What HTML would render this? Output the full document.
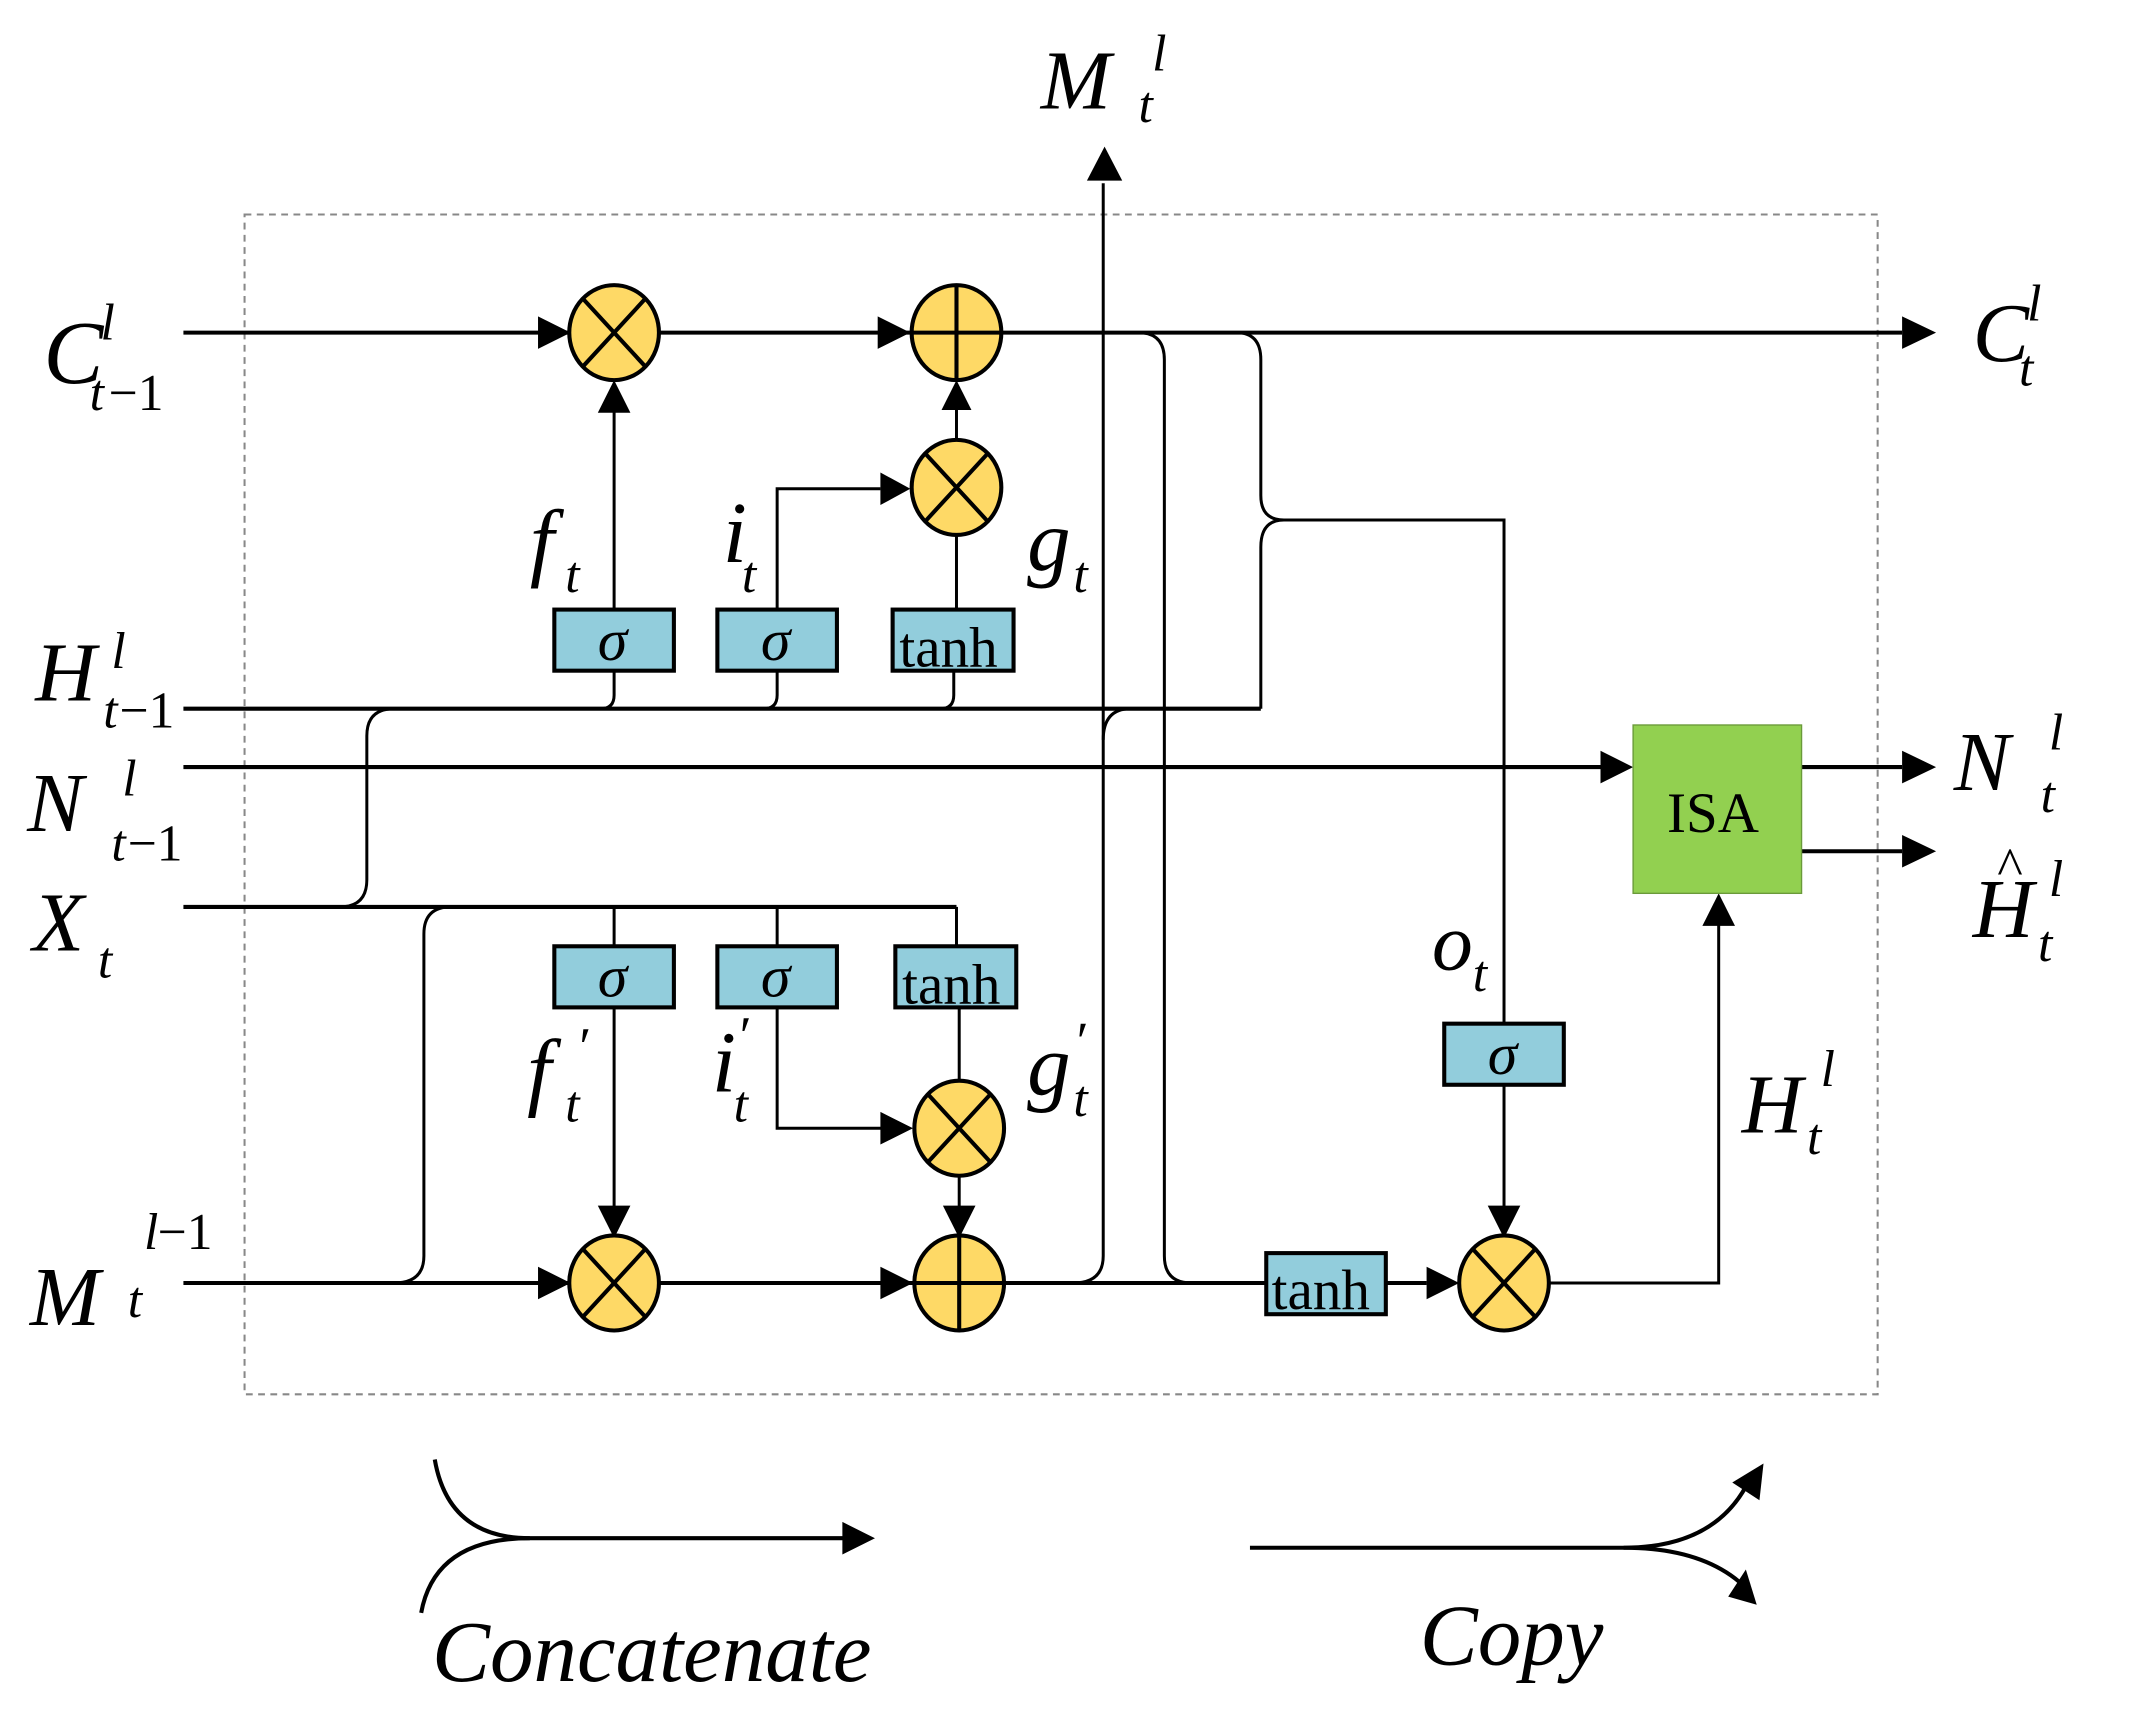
<!DOCTYPE html>
<html><head><meta charset="utf-8"><style>html,body{margin:0;padding:0;background:#fff}svg{display:block}</style></head>
<body>
<svg width="2129" height="1712" viewBox="0 0 1567 1261" preserveAspectRatio="none" xmlns="http://www.w3.org/2000/svg" font-family="Liberation Serif, serif">
<g fill="none" stroke="#000">
<rect x="180" y="158" width="1202" height="869" stroke="#888" stroke-width="1.5" stroke-dasharray="5,4"/>
<g stroke-width="3">
<line x1="135" y1="245" x2="418" y2="245"/>
<path d="M396,233L420,245L396,257z" fill="#000" stroke="none"/>
<line x1="486" y1="245" x2="670" y2="245"/>
<path d="M646,233L670,245L646,257z" fill="#000" stroke="none"/>
<line x1="738" y1="245" x2="1400" y2="245"/>
<path d="M1400,233L1425,245L1400,257z" fill="#000" stroke="none"/>
<line x1="135" y1="522" x2="928" y2="522"/>
<line x1="135" y1="565" x2="1180" y2="565"/>
<path d="M1178,553L1202,565L1178,577z" fill="#000" stroke="none"/>
<line x1="135" y1="668" x2="704" y2="668"/>
<line x1="135" y1="945" x2="418" y2="945"/>
<path d="M396,933L420,945L396,957z" fill="#000" stroke="none"/>
<line x1="486" y1="945" x2="672" y2="945"/>
<path d="M648,933L672,945L648,957z" fill="#000" stroke="none"/>
<line x1="740" y1="945" x2="932" y2="945"/>
<line x1="1020" y1="945" x2="1050" y2="945"/>
<path d="M1050,933L1074,945L1050,957z" fill="#000" stroke="none"/>
<line x1="1326" y1="565" x2="1400" y2="565"/>
<path d="M1400,553L1425,565L1400,577z" fill="#000" stroke="none"/>
<line x1="1326" y1="627" x2="1400" y2="627"/>
<path d="M1400,615L1425,627L1400,639z" fill="#000" stroke="none"/>
</g>
<g stroke-width="2.2">
<line x1="452" y1="449" x2="452" y2="302"/>
<path d="M440,304L452,280L464,304z" fill="#000" stroke="none"/>
<path d="M572,449V360H648"/>
<path d="M648,348L670,360L648,372z" fill="#000" stroke="none"/>
<line x1="704" y1="449" x2="704" y2="392"/>
<line x1="704" y1="326" x2="704" y2="300"/>
<path d="M693,302L704,280L715,302z" fill="#000" stroke="none"/>
<path d="M452,494V512Q452,522 442,522"/>
<path d="M572,494V512Q572,522 562,522"/>
<path d="M702,494V512Q702,522 692,522"/>
<path d="M250,668Q270,668 270,648V542Q270,522 290,522"/>
<path d="M290,945Q312,945 312,925V688Q312,668 332,668"/>
<path d="M452,668V697"/>
<path d="M572,668V697"/>
<path d="M704,668V697"/>
<line x1="452" y1="742" x2="452" y2="890"/>
<path d="M440,888L452,912L464,888z" fill="#000" stroke="none"/>
<path d="M572,742V831H650"/>
<path d="M648,819L672,831L648,843z" fill="#000" stroke="none"/>
<line x1="706" y1="742" x2="706" y2="798"/>
<line x1="706" y1="864" x2="706" y2="890"/>
<path d="M694,888L706,912L718,888z" fill="#000" stroke="none"/>
<path d="M790,945Q812,945 812,925V135"/>
<path d="M800,133L813,108L826,133z" fill="#000" stroke="none"/>
<path d="M812,545Q812,522 832,522"/>
<path d="M838,245Q857,245 857,265V925Q857,945 877,945"/>
<path d="M910,245Q928,245 928,265V365Q928,383 945,383H1107V754"/>
<path d="M928,522V403Q928,383 945,383"/>
<line x1="1107" y1="799" x2="1107" y2="890"/>
<path d="M1095,888L1107,912L1119,888z" fill="#000" stroke="none"/>
<path d="M1141,945H1265V680"/>
<path d="M1253,682L1265,658L1277,682z" fill="#000" stroke="none"/>
</g>
<g fill="#fed966" stroke-width="3">
<ellipse cx="452" cy="245" rx="33" ry="35"/><path d="M429,220L475,270M475,220L429,270"/>
<ellipse cx="704" cy="245" rx="33" ry="35"/><path d="M671,245H737M704,210V280"/>
<ellipse cx="704" cy="359" rx="33" ry="35"/><path d="M681,334L727,384M727,334L681,384"/>
<ellipse cx="452" cy="945" rx="33" ry="35"/><path d="M429,920L475,970M475,920L429,970"/>
<ellipse cx="706" cy="945" rx="33" ry="35"/><path d="M673,945H739M706,910V980"/>
<ellipse cx="706" cy="831" rx="33" ry="35"/><path d="M683,806L729,856M729,806L683,856"/>
<ellipse cx="1107" cy="945" rx="33" ry="35"/><path d="M1084,920L1130,970M1130,920L1084,970"/>
</g>
<g fill="#92cddc" stroke-width="3">
<rect x="408" y="449" width="88" height="45"/>
<rect x="528" y="449" width="88" height="45"/>
<rect x="657" y="449" width="89" height="45"/>
<rect x="408" y="697" width="88" height="45"/>
<rect x="528" y="697" width="88" height="45"/>
<rect x="659" y="697" width="89" height="45"/>
<rect x="932" y="923" width="88" height="45"/>
<rect x="1063" y="754" width="88" height="45"/>
</g>
<rect x="1202" y="534" width="124" height="124" fill="#92d050" stroke="#6a9a3a" stroke-width="1"/>
<g stroke-width="3">
<path d="M320,1075Q330,1133 390,1133"/>
<path d="M310,1188Q320,1133 390,1133H622"/>
<path d="M620,1121L644,1133L620,1145z" fill="#000" stroke="none"/>
<path d="M920,1140H1195Q1260,1140 1285,1095"/>
<path d="M1195,1140Q1250,1140 1280,1165"/>
<path d="M1275,1092L1298,1078L1295,1105z" fill="#000" stroke="none"/>
<path d="M1272,1176L1293,1182L1285,1156z" fill="#000" stroke="none"/>
</g>
</g>
<g font-style="italic" fill="#000" font-size="44">
<text x="440" y="486">σ</text>
<text x="560" y="486">σ</text>
<text x="440" y="734">σ</text>
<text x="560" y="734">σ</text>
<text x="1095" y="791">σ</text>
</g>
<g fill="#000" font-size="42">
<text x="662" y="491">tanh</text>
<text x="664" y="739">tanh</text>
<text x="936" y="964">tanh</text>
<text x="1227" y="613">ISA</text>
</g>
<g font-style="italic" fill="#000">
<text x="32" y="282" font-size="66">C</text><text x="74" y="250" font-size="38">l</text><text x="66" y="302" font-size="38">t</text><text x="80" y="302" font-size="38" font-style="normal">−1</text>
<text x="26" y="516" font-size="62">H</text><text x="82" y="492" font-size="38">l</text><text x="76" y="536" font-size="38">t</text><text x="88" y="536" font-size="38" font-style="normal">−1</text>
<text x="20" y="612" font-size="62">N</text><text x="90" y="586" font-size="38">l</text><text x="82" y="634" font-size="38">t</text><text x="94" y="634" font-size="38" font-style="normal">−1</text>
<text x="24" y="700" font-size="62">X</text><text x="72" y="720" font-size="38">t</text>
<text x="22" y="976" font-size="62">M</text><text x="106" y="920" font-size="38">l</text><text x="116" y="920" font-size="38" font-style="normal">−1</text><text x="94" y="970" font-size="38">t</text>
<text x="766" y="80" font-size="62">M</text><text x="848" y="52" font-size="38">l</text><text x="838" y="90" font-size="38">t</text>
<text x="1452" y="266" font-size="62">C</text><text x="1492" y="236" font-size="38">l</text><text x="1486" y="284" font-size="38">t</text>
<text x="1438" y="582" font-size="62">N</text><text x="1508" y="552" font-size="38">l</text><text x="1502" y="598" font-size="38">t</text>
<text x="1452" y="690" font-size="62">H</text><text x="1470" y="652" font-size="40" font-style="normal">^</text><text x="1508" y="660" font-size="38">l</text><text x="1500" y="708" font-size="38">t</text>
<text x="1282" y="834" font-size="62">H</text><text x="1340" y="800" font-size="38">l</text><text x="1330" y="850" font-size="38">t</text>
<text x="390" y="420" font-size="64">f</text><text x="416" y="436" font-size="38">t</text>
<text x="532" y="414" font-size="64">i</text><text x="546" y="436" font-size="38">t</text>
<text x="756" y="420" font-size="64">g</text><text x="790" y="436" font-size="38">t</text>
<text x="388" y="810" font-size="64">f</text><text x="424" y="784" font-size="40">′</text><text x="416" y="826" font-size="38">t</text>
<text x="524" y="804" font-size="64">i</text><text x="542" y="776" font-size="40">′</text><text x="540" y="826" font-size="38">t</text>
<text x="756" y="806" font-size="64">g</text><text x="790" y="780" font-size="40">′</text><text x="790" y="822" font-size="38">t</text>
<text x="1054" y="714" font-size="60">o</text><text x="1084" y="730" font-size="38">t</text>
<text x="318" y="1238" font-size="64">Concatenate</text>
<text x="1045" y="1226" font-size="64">Copy</text>
</g>
</svg>
</body></html>
